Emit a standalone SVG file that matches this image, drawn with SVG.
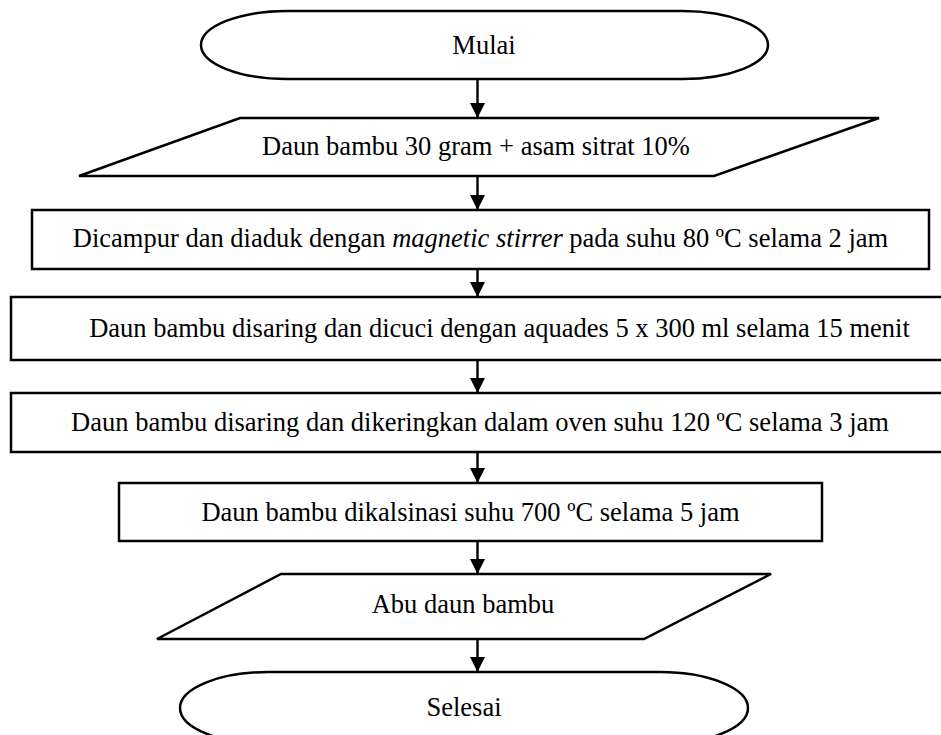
<svg xmlns="http://www.w3.org/2000/svg" width="941" height="735" viewBox="0 0 941 735">
  <defs>
    <style>
      .shape { fill: #ffffff; stroke: #000000; stroke-width: 2.5; }
      .lbl { font-family: "Liberation Serif", "Times New Roman", serif; font-size: 26.5px; fill: #000000; text-anchor: middle; }
      .conn { stroke: #000000; stroke-width: 2.4; fill: none; marker-end: url(#arrow); }
    </style>
    <marker id="arrow" markerUnits="userSpaceOnUse" markerWidth="16" markerHeight="16" refX="15" refY="7.5" orient="auto">
      <path d="M0,0 L15,7.5 L0,15 Z" fill="#000000"/>
    </marker>
  </defs>
  <rect width="941" height="735" fill="#ffffff"/>

  <g id="connectors">
    <line class="conn" x1="477.5" y1="79" x2="477.5" y2="118"/>
    <line class="conn" x1="477.5" y1="176" x2="477.5" y2="210"/>
    <line class="conn" x1="477.5" y1="269" x2="477.5" y2="297"/>
    <line class="conn" x1="477.5" y1="360" x2="477.5" y2="393"/>
    <line class="conn" x1="477.5" y1="452" x2="477.5" y2="483"/>
    <line class="conn" x1="477.5" y1="541" x2="477.5" y2="574"/>
    <line class="conn" x1="477.5" y1="639" x2="477.5" y2="672"/>
  </g>

  <g id="mulai">
    <rect class="shape" x="201" y="11" width="567" height="68" rx="86" ry="34"/>
    <text class="lbl" x="484" y="54">Mulai</text>
  </g>

  <g id="input-daun">
    <polygon class="shape" points="240,118 879,118 714,176 79,176"/>
    <text class="lbl" x="476" y="155">Daun bambu 30 gram + asam sitrat 10%</text>
  </g>

  <g id="campur">
    <rect class="shape" x="32" y="210" width="897" height="59"/>
    <text class="lbl" x="480.5" y="247">Dicampur dan diaduk dengan <tspan font-style="italic">magnetic stirrer</tspan> pada suhu 80 ºC selama 2 jam</text>
  </g>

  <g id="cuci">
    <rect class="shape" x="11" y="297" width="936" height="63"/>
    <text class="lbl" x="499.5" y="337">Daun bambu disaring dan dicuci dengan aquades 5 x 300 ml selama 15 menit</text>
  </g>

  <g id="kering">
    <rect class="shape" x="11" y="393" width="936" height="59"/>
    <text class="lbl" x="480" y="430.5">Daun bambu disaring dan dikeringkan dalam oven suhu 120 ºC selama 3 jam</text>
  </g>

  <g id="kalsinasi">
    <rect class="shape" x="119" y="483" width="703" height="58"/>
    <text class="lbl" x="470.5" y="520.5">Daun bambu dikalsinasi suhu 700 ºC selama 5 jam</text>
  </g>

  <g id="output-abu">
    <polygon class="shape" points="281,574 771,574 644,639 157,639"/>
    <text class="lbl" x="463" y="613">Abu daun bambu</text>
  </g>

  <g id="selesai">
    <rect class="shape" x="180" y="672" width="568" height="72" rx="88" ry="36"/>
    <text class="lbl" x="464" y="715.5">Selesai</text>
  </g>
</svg>
